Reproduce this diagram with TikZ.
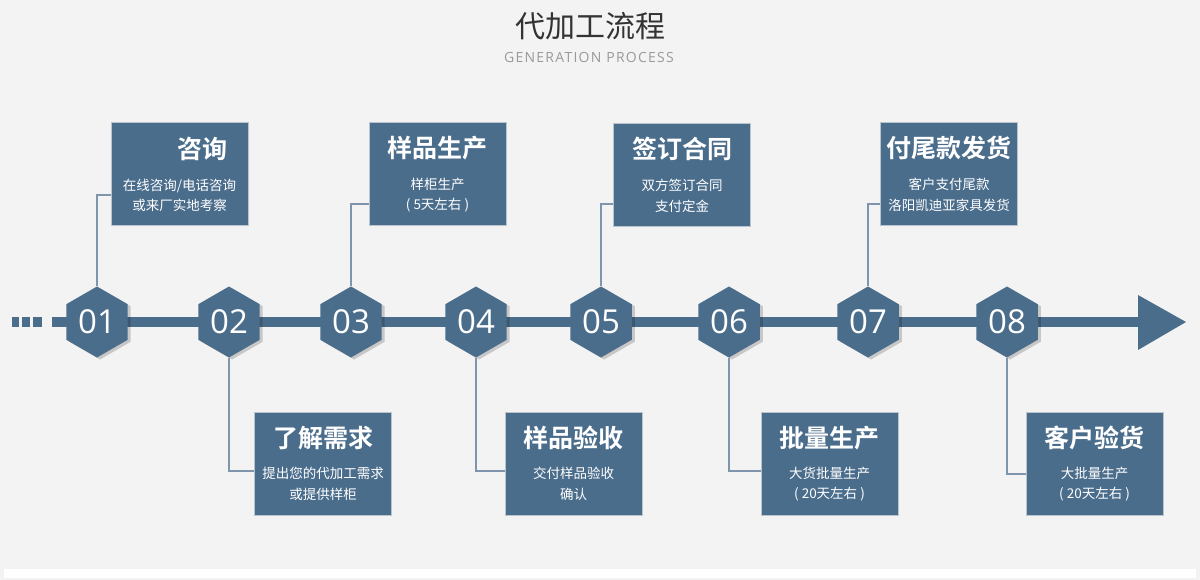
\documentclass[tikz,border=0pt]{standalone}
\usepackage{fontspec}
\usetikzlibrary{shapes.geometric}
\setmainfont{Open Sans}
\newfontfamily\spaced[LetterSpace=9]{Open Sans}
\newfontfamily\cjk[BoldFont={Noto Sans CJK SC Bold}]{Noto Sans CJK SC}
\definecolor{bg}{HTML}{F3F3F3}
\definecolor{boxblue}{HTML}{4B6D8C}
\definecolor{boxedge}{HTML}{B9C4CF}
\definecolor{linec}{HTML}{7E95AB}
\definecolor{titlec}{HTML}{333333}
\definecolor{subc}{HTML}{9A9A9A}
\begin{document}
\begin{tikzpicture}[x=1pt,y=-1pt,
  box/.style={fill=boxblue, draw=boxedge, line width=0.8pt, minimum width=137pt, minimum height=103pt, inner sep=0pt},
  hexa/.style={regular polygon, regular polygon sides=6, shape border rotate=30, fill=boxblue, minimum size=71pt, inner sep=0pt, text=white, font=\fontsize{33}{33}\selectfont},
  hexshadow/.style={regular polygon, regular polygon sides=6, shape border rotate=30, fill=black, opacity=0.18, minimum size=71pt, inner sep=0pt},
  ttl/.style={text=white, font=\cjk\bfseries\fontsize{25}{25}\selectfont, inner sep=0pt},
  sub/.style={text=white, font=\cjk\fontsize{13.5}{20.5}\selectfont, align=center, inner sep=0pt},
  conn/.style={draw=linec, line width=1.3pt}]
\fill[bg] (0,0) rectangle (1200,580);
\useasboundingbox (0,0) rectangle (1200,580);
\fill[white] (4,569) rectangle (1196,578);

% header
\node[text=titlec, font=\cjk\fontsize{30}{30}\selectfont, inner sep=0pt] (title) at (590,26) {代加工流程};
\node[text=subc, font=\spaced\fontsize{14}{14}\selectfont, inner sep=0pt] (subtitle) at (589,57) {GENERATION PROCESS};

% timeline bar
\fill[boxblue] (12,317) rectangle (19,327);
\fill[boxblue] (22,317) rectangle (30,327);
\fill[boxblue] (33,317) rectangle (42,327);
\fill[boxblue] (52,317) rectangle (1140,327);
\fill[boxblue] (1138,295) -- (1186,322) -- (1138,350) -- cycle;

% hexagons
\foreach \x in {97,229,351,476,601,729,868,1007}{
  \node[hexshadow] at (\x+3,324) {};
}
\node[hexa] (h1) at (97,322) {01};
\node[hexa] (h2) at (229,322) {02};
\node[hexa] (h3) at (351,322) {03};
\node[hexa] (h4) at (476,322) {04};
\node[hexa] (h5) at (601,322) {05};
\node[hexa] (h6) at (729,322) {06};
\node[hexa] (h7) at (868,322) {07};
\node[hexa] (h8) at (1007,322) {08};

% top boxes
\node[box] (b1) at (179.5,173.5) {};
\node[box] (b3) at (437.5,173.5) {};
\node[box] (b5) at (682,175) {};
\node[box] (b7) at (949,173.5) {};
% bottom boxes
\node[box] (b2) at (323,463.5) {};
\node[box] (b4) at (573.5,463.5) {};
\node[box] (b6) at (829.5,463.5) {};
\node[box] (b8) at (1094.5,463.5) {};

% titles
\node[ttl] (t1) at (202,149) {咨询};
\node[ttl] (t3) at (437,148) {样品生产};
\node[ttl] (t5) at (682,149) {签订合同};
\node[ttl] (t7) at (949,148) {付尾款发货};
\node[ttl] (t2) at (323,438) {了解需求};
\node[ttl] (t4) at (573,438) {样品验收};
\node[ttl] (t6) at (829,438) {批量生产};
\node[ttl] (t8) at (1094,438) {客户验货};

% descriptions
\node[sub] (s1) at (179.5,195.5) {在线咨询/电话咨询\\或来厂实地考察};
\node[sub] (s3) at (437.5,195) {样柜生产\\( 5天左右 )};
\node[sub] (s5) at (682,196) {双方签订合同\\支付定金};
\node[sub] (s7) at (949,195) {客户支付尾款\\洛阳凯迪亚家具发货};
\node[sub] (s2) at (323,484) {提出您的代加工需求\\或提供样柜};
\node[sub] (s4) at (573.5,484) {交付样品验收\\确认};
\node[sub] (s6) at (829.5,484) {大货批量生产\\( 20天左右 )};
\node[sub] (s8) at (1094.5,484) {大批量生产\\( 20天左右 )};

% connectors
\coordinate (c1) at (b1.west |- 0,195);
\coordinate (c3) at (b3.west |- 0,204);
\coordinate (c5) at (b5.west |- 0,204);
\coordinate (c7) at (b7.west |- 0,204);
\coordinate (c2) at (b2.west |- 0,471);
\coordinate (c4) at (b4.west |- 0,471);
\coordinate (c6) at (b6.west |- 0,471);
\coordinate (c8) at (b8.west |- 0,474);
\draw[conn] (c1) -| (h1.north);
\draw[conn] (c3) -| (h3.north);
\draw[conn] (c5) -| (h5.north);
\draw[conn] (c7) -| (h7.north);
\draw[conn] (h2.south) |- (c2);
\draw[conn] (h4.south) |- (c4);
\draw[conn] (h6.south) |- (c6);
\draw[conn] (h8.south) |- (c8);
\end{tikzpicture}
\end{document}
